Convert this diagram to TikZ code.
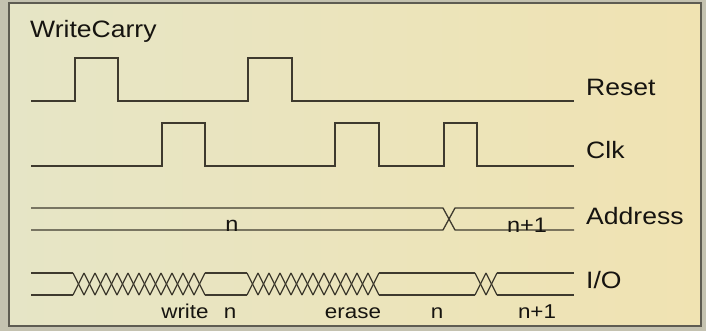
\documentclass[tikz,border=0pt]{standalone}
\usepackage{fontspec}
\newfontfamily\lab[FakeStretch=1.12]{Liberation Sans}
\definecolor{outerbg}{HTML}{C4C2B0}
\definecolor{bgleft}{HTML}{E6E5C6}
\definecolor{bgright}{HTML}{F0E3B2}
\definecolor{wave}{HTML}{3E3A2E}
\definecolor{framec}{HTML}{5E5C52}
\definecolor{txt}{HTML}{161410}
\tikzset{
  wavel/.style={draw=wave, line width=1.4pt, line join=miter},
  busl/.style={draw=wave, line width=1.3pt},
  signame/.style={font=\lab\fontsize{23.7}{26}\selectfont, text=txt, inner sep=0pt, anchor=base west},
  vallab/.style={font=\lab\fontsize{20}{22}\selectfont, text=txt, inner sep=0pt, anchor=base},
}
\begin{document}
\begin{tikzpicture}[x=1pt,y=-1pt]
\useasboundingbox (0,0) rectangle (706,331);
\fill[outerbg] (0,0) rectangle (706,331);
\shade[left color=bgleft, right color=bgright] (9,3) rectangle (701,326);
\draw[framec, line width=1.8pt] (9,3) rectangle (701,326);

% title
\node[signame] (title) at (30,38) {WriteCarry};

% Reset
\draw[wavel] (31,101) -- (75,101) -- (75,58) -- (118,58) -- (118,101)
  -- (248,101) -- (248,58) -- (292,58) -- (292,101) -- (574,101);
\node[signame] (reset) at (586,96) {Reset};

% Clk
\draw[wavel] (31,166) -- (162,166) -- (162,123) -- (205,123) -- (205,166)
  -- (335,166) -- (335,123) -- (379,123) -- (379,166) -- (444,166)
  -- (444,123) -- (477,123) -- (477,166) -- (574,166);
\node[signame] (clk) at (586,159) {Clk};

% Address
\draw[busl] (31,208) -- (443,208) -- (455,230) -- (574,230);
\draw[busl] (31,230) -- (443,230) -- (455,208) -- (574,208);
\node[vallab, font=\lab\fontsize{21}{22}\selectfont] (an) at (232,231) {n};
\node[vallab, font=\lab\fontsize{21}{22}\selectfont] (an1) at (527,232) {n+1};
\node[signame] (addr) at (586,224) {Address};

% I/O
\draw[busl] (31,273) -- (73,273);
\draw[busl] (31,295) -- (73,295);
\foreach \k in {0,...,11} {
  \draw[busl] ({73+\k*11},273) -- ({84+\k*11},295);
  \draw[busl] ({73+\k*11},295) -- ({84+\k*11},273);
}
\draw[busl] (205,273) -- (247,273);
\draw[busl] (205,295) -- (247,295);
\foreach \k in {0,...,11} {
  \draw[busl] ({247+\k*11},273) -- ({258+\k*11},295);
  \draw[busl] ({247+\k*11},295) -- ({258+\k*11},273);
}
\draw[busl] (379,273) -- (475,273);
\draw[busl] (379,295) -- (475,295);
\foreach \k in {0,1} {
  \draw[busl] ({475+\k*11},273) -- ({486+\k*11},295);
  \draw[busl] ({475+\k*11},295) -- ({486+\k*11},273);
}
\draw[busl] (497,273) -- (574,273);
\draw[busl] (497,295) -- (574,295);
\node[signame] (io) at (586,288) {I/O};

\node[vallab] (write) at (185,318) {write};
\node[vallab] (n1) at (230,318) {n};
\node[vallab] (erase) at (353,318) {erase};
\node[vallab] (n2) at (437,318) {n};
\node[vallab] (n3) at (537,318) {n+1};
\end{tikzpicture}
\end{document}
